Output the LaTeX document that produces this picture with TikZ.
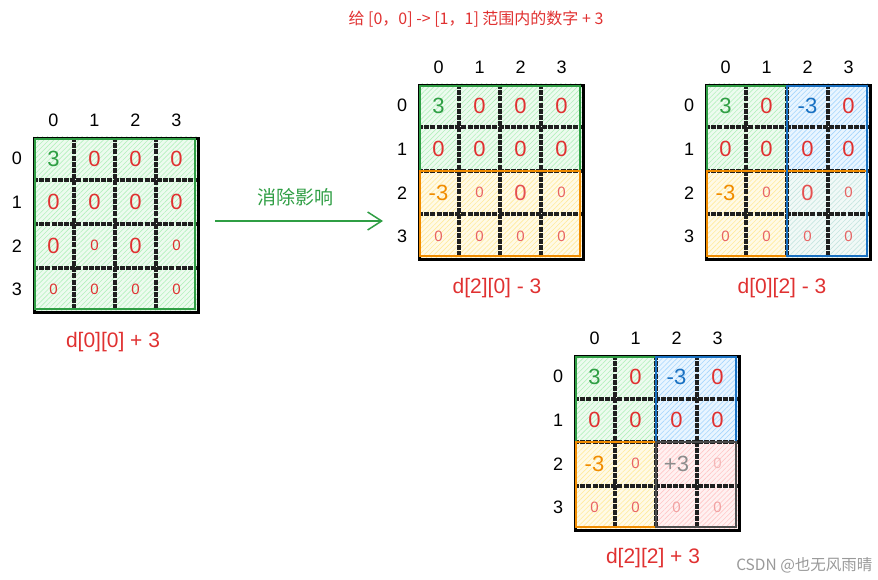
\documentclass[tikz,border=0pt]{standalone}
\usepackage{fontspec}
\setmainfont{Liberation Sans}
\newfontfamily\cjk{Noto Sans CJK SC}
\usetikzlibrary{patterns.meta,arrows.meta}
\definecolor{exgreen}{HTML}{2F9E44}
\definecolor{exred}{HTML}{E03131}
\definecolor{exorange}{HTML}{F08C00}
\definecolor{exblue}{HTML}{1971C2}
\definecolor{fgreen}{HTML}{8CE99A}
\definecolor{fyellow}{HTML}{FFE066}
\definecolor{fblue}{HTML}{74C0FC}
\definecolor{fpink}{HTML}{FFA8A8}
\definecolor{fmix}{HTML}{A8D8D0}
\tikzset{
  region/.style={preaction={fill=#1!16}, pattern={Lines[angle=45,distance=3.5pt,line width=0.6pt]}, pattern color=#1!65},
  gridline/.style={line width=4pt, black!88, dash pattern=on 5pt off 1.2pt},
  frame/.style={draw, line width=2.6pt, black, inner sep=0pt, minimum width=164pt, minimum height=174pt, anchor=north west},
  idx/.style={font=\fontsize{18}{18}\selectfont, text=black},
  caption/.style={font=\fontsize{21}{21}\selectfont, text=exred},
  rborder/.style={line width=1.5pt, draw=#1},
}
% #1 name, #2 x, #3 y, #4 fills, #5 borders
\newcommand\mygrid[5]{%
  \begin{scope}[shift={(#2,#3)}]
    #4
    \foreach \k in {1,2,3} {
      \draw[gridline] ({\k*41},0) -- ({\k*41},174);
      \draw[gridline] (0,{\k*43.5}) -- (164,{\k*43.5});
    }
    \node[frame] (#1) at (0,0) {};
    #5
    \foreach \c in {0,...,3} \node[idx] (#1-c\c) at ({\c*41+20.5},-17) {\c};
    \foreach \r in {0,...,3} \node[idx] (#1-r\r) at (-16,{\r*43.5+21.75}) {\r};
  \end{scope}}
% numbers: #1 name, #2 list r/c/size/text/colour
\newcommand\putnums[2]{%
  \foreach \r/\c/\s/\t/\col in {#2} {
    \node[font=\fontsize{\s}{\s}\selectfont, text=\col, inner sep=0pt] (#1-\r\c) at ({\c*41+20.5},{\r*43.5+21.75}) {\t};
  }}
\begin{document}
\begin{tikzpicture}[x=1pt,y=-1pt]
\useasboundingbox (0,0) rectangle (878,580);

% title
\node[font=\cjk\fontsize{16}{16}\selectfont, text=exred] (title) at (476,19) {给 [0，0] -> [1，1] 范围内的数字 + 3};

% grid 1
\mygrid{g1}{33}{137}{%
  \path[region=fgreen] (0,0) rectangle (164,174);
}{%
  \draw[rborder=exgreen] (2,2) rectangle (162,172);
  \putnums{g1}{0/0/22/3/exgreen,0/1/22/0/exred,0/2/22/0/exred,0/3/22/0/exred,
    1/0/22/0/exred,1/1/22/0/exred,1/2/22/0/exred,1/3/22/0/exred,
    2/0/22/0/exred,2/1/15/0/exred,2/2/22/0/exred,2/3/15/0/exred,
    3/0/15/0/exred,3/1/15/0/exred,3/2/15/0/exred,3/3/15/0/exred}
}
\node[caption] (cap1) at (113,342) {d[0][0] + 3};

% grid 2
\mygrid{g2}{418}{84}{%
  \path[region=fgreen] (0,0) rectangle (164,87);
  \path[region=fyellow] (0,87) rectangle (164,174);
}{%
  \draw[rborder=exgreen] (2,2) rectangle (162,87);
  \draw[rborder=exorange] (2,87) rectangle (162,172);
  \putnums{g2}{0/0/22/3/exgreen,0/1/22/0/exred,0/2/22/0/exred,0/3/22/0/exred,
    1/0/22/0/exred,1/1/22/0/exred,1/2/22/0/exred,1/3/22/0/exred,
    2/0/22/-3/exorange,2/1/15/0/exred!75,2/2/22/0/exred!85,2/3/15/0/exred!75,
    3/0/15/0/exred!75,3/1/15/0/exred!75,3/2/15/0/exred!75,3/3/15/0/exred!75}
}
\node[caption] (cap2) at (497,288) {d[2][0] - 3};

% grid 3
\mygrid{g3}{705}{84}{%
  \path[region=fgreen] (0,0) rectangle (82,87);
  \path[region=fyellow] (0,87) rectangle (82,174);
  \path[region=fblue] (82,0) rectangle (164,87);
  \path[region=fmix] (82,87) rectangle (164,174);
}{%
  \draw[rborder=exgreen] (2,2) rectangle (82,87);
  \draw[rborder=exorange] (2,87) rectangle (162,172);
  \draw[rborder=exblue] (82,2) rectangle (162,172);
  \putnums{g3}{0/0/22/3/exgreen,0/1/22/0/exred,0/2/22/-3/exblue,0/3/22/0/exred,
    1/0/22/0/exred,1/1/22/0/exred,1/2/22/0/exred,1/3/22/0/exred,
    2/0/22/-3/exorange,2/1/15/0/exred!75,2/2/22/0/exred!85,2/3/15/0/exred!75,
    3/0/15/0/exred!75,3/1/15/0/exred!75,3/2/15/0/exred!75,3/3/15/0/exred!75}
}
\node[caption] (cap3) at (782,288) {d[0][2] - 3};

% grid 4
\mygrid{g4}{574}{355}{%
  \path[region=fgreen] (0,0) rectangle (82,87);
  \path[region=fyellow] (0,87) rectangle (82,174);
  \path[region=fblue] (82,0) rectangle (164,87);
  \path[region=fpink] (82,87) rectangle (164,174);
}{%
  \draw[rborder=exgreen] (2,2) rectangle (82,172);
  \draw[rborder=exorange] (2,87) rectangle (162,172);
  \draw[rborder=exblue] (82,2) rectangle (162,87);
  \draw[rborder=black!70] (82,87) rectangle (162,172);
  \putnums{g4}{0/0/22/3/exgreen,0/1/22/0/exred,0/2/22/-3/exblue,0/3/22/0/exred,
    1/0/22/0/exred,1/1/22/0/exred,1/2/22/0/exred,1/3/22/0/exred,
    2/0/22/-3/exorange,2/1/15/0/exred!75,2/2/22/+3/black!45,2/3/15/0/exred!35,
    3/0/15/0/exred!75,3/1/15/0/exred!75,3/2/15/0/exred!45,3/3/15/0/exred!45}
}
\node[caption] (cap4) at (653,558) {d[2][2] + 3};

% arrow
\coordinate (a1) at (215,221);
\coordinate (a2) at (383,221);
\draw[exgreen, line width=1.5pt, -{Straight Barb[length=14pt,width=18pt,line width=1.5pt]}] (a1) -- (a2);
\node[font=\cjk\fontsize{19}{19}\selectfont, text=exgreen] (albl) at (295,197) {消除影响};

% watermark
\node[font=\cjk\fontsize{15.5}{15.5}\selectfont, text=black!40, anchor=east] (wm) at (876,565) {CSDN @也无风雨晴};
\end{tikzpicture}
\end{document}
